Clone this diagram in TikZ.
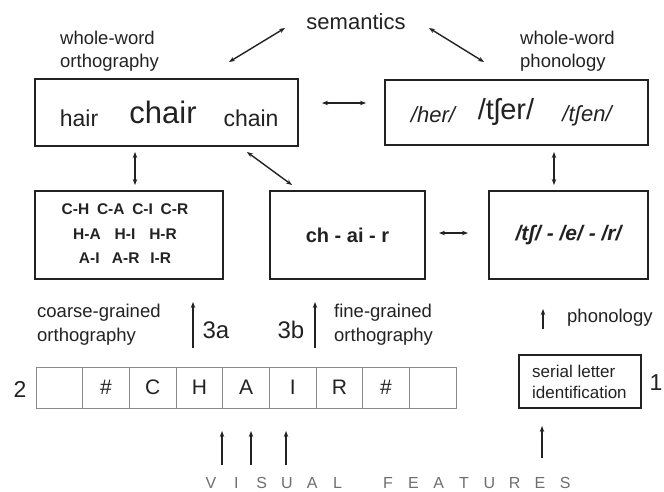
\documentclass[tikz,border=0pt]{standalone}
\usepackage{fontspec}
\setmainfont{Liberation Sans}
\usetikzlibrary{arrows.meta}
\definecolor{txt}{HTML}{222222}
\definecolor{gridc}{HTML}{8A8A8A}
\definecolor{vf}{HTML}{6E6E6E}
\newcommand\fsz[2]{\fontsize{#1}{#2}\selectfont}
\begin{document}
\begin{tikzpicture}[x=1pt,y=-1pt,
  box/.style={draw=txt, line width=2.2pt, inner sep=0pt},
  lbl/.style={inner sep=0pt, text=txt, align=left, anchor=west},
  word/.style={inner sep=0pt, text=txt},
  cell/.style={draw=gridc, line width=0.9pt, minimum width=46.67pt, minimum height=41pt, inner sep=0pt, text=txt, font=\fsz{21}{24}},
  tip/.style={-{Stealth[length=6pt,width=4.5pt]}},
  arr/.style={draw=txt, line width=1.4pt, tip},
  dbl/.style={draw=txt, line width=1.4pt, {Stealth[length=6pt,width=4.5pt]}-{Stealth[length=6pt,width=4.5pt]}}
]
\useasboundingbox (0,0) rectangle (664,491);

% top level
\node[word, font=\fsz{22}{26}] (sem) at (356,22) {semantics};
\node[lbl, font=\fsz{18.5}{23}] (wwol) at (60,51) {whole-word\\orthography};
\node[lbl, font=\fsz{18.5}{23}] (wwpl) at (520,51) {whole-word\\phonology};

\node[box, minimum width=263pt, minimum height=67pt] (wwo) at (166.5,112.5) {};
\node[word, font=\fsz{23}{26}] (hair) at (79,118) {hair};
\node[word, font=\fsz{31}{34}] (chair) at (163,112) {chair};
\node[word, font=\fsz{23}{26}] (chain) at (251,118) {chain};

\node[box, minimum width=263pt, minimum height=65pt] (wwp) at (516.5,112.5) {};
\node[word, font=\fsz{22}{26}\itshape] (her) at (433,115) {/her/};
\node[word, font=\fsz{29}{32}] (tser) at (506,112) {/tʃer/};
\node[word, font=\fsz{22}{26}\itshape] (tsen) at (587,116) {/tʃen/};

% middle row
\node[box, minimum width=188pt, minimum height=88pt] (pairs) at (129,235) {};
\node[word, font=\fsz{15.5}{24.5}\bfseries, align=center] (pairst) at (125,234)
  {C-H\hspace{0.5em}C-A\hspace{0.5em}C-I\hspace{0.5em}C-R\\H-A\hspace{0.9em}H-I\hspace{0.9em}H-R\\A-I\hspace{0.8em}A-R\hspace{0.7em}I-R};
\node[box, minimum width=155pt, minimum height=88pt, font=\fsz{20}{23}\bfseries, text=txt] (fine) at (347.5,235) {ch - ai - r};
\node[box, minimum width=159pt, minimum height=88pt, font=\fsz{21}{24}\bfseries\itshape, text=txt] (phon) at (568.5,235) {/tʃ/ - /e/ - /r/};

% connectors top
\coordinate (s1a) at (285,28); \coordinate (s1b) at (229,62);
\coordinate (s2a) at (429,28); \coordinate (s2b) at (484,62);
\draw[dbl] (s1a) -- (s1b);
\draw[dbl] (s2a) -- (s2b);
\coordinate (h1a) at (322,103); \coordinate (h1b) at (366,103);
\draw[dbl] (h1a) -- (h1b);
\coordinate (v1a) at (135,152); \coordinate (v1b) at (135,185);
\draw[dbl] (v1a) -- (v1b);
\coordinate (d1a) at (247,152); \coordinate (d1b) at (292,185);
\draw[dbl] (d1a) -- (d1b);
\coordinate (v2a) at (554,152); \coordinate (v2b) at (554,185);
\draw[dbl] (v2a) -- (v2b);
\coordinate (h2a) at (439,233); \coordinate (h2b) at (468,233);
\draw[dbl] (h2a) -- (h2b);

% labels lower
\node[lbl, font=\fsz{18.5}{24}] (coarse) at (37,325) {coarse-grained\\orthography};
\node[lbl, font=\fsz{18.5}{24}] (finel) at (334,325) {fine-grained\\orthography};
\node[lbl, font=\fsz{18.5}{22}] (phonl) at (567,318) {phonology};
\node[word, font=\fsz{24}{26}] (a3) at (216,330) {3a};
\node[word, font=\fsz{24}{26}] (b3) at (291,330) {3b};
\coordinate (r3aa) at (193,348); \coordinate (r3ab) at (193,302);
\draw[arr] (r3aa) -- (r3ab);
\coordinate (r3ba) at (315,348); \coordinate (r3bb) at (315,302);
\draw[arr] (r3ba) -- (r3bb);
\coordinate (rpa) at (543,329); \coordinate (rpb) at (543,309);
\draw[arr] (rpa) -- (rpb);

% letter strip
\foreach \i/\t in {0/{},1/\#,2/C,3/H,4/A,5/I,6/R,7/\#,8/{}} {
  \node[cell] (c\i) at ({59.33+46.67*\i},387.5) {\t};
}
\node[word, font=\fsz{23}{26}] (two) at (20,389) {2};

% serial letter identification
\node[box, minimum width=122pt, minimum height=53pt] (serial) at (580,381.5) {};
\node[lbl, font=\fsz{17}{20.5}] (serialt) at (532,382) {serial letter\\identification};
\node[word, font=\fsz{23}{26}] (one) at (656,383) {1};

% bottom arrows
\foreach \x in {222,251,286} {
  \coordinate (ba\x) at (\x,465); \coordinate (bb\x) at (\x,431);
  \draw[arr] (ba\x) -- (bb\x);
}
\coordinate (sa) at (542,458); \coordinate (sb) at (542,426);
\draw[arr] (sa) -- (sb);

% VISUAL FEATURES
\foreach \k/\l in {0/V,1/I,2/S,3/U,4/A,5/L,7/F,8/E,9/A,10/T,11/U,12/R,13/E,14/S} {
  \node[inner sep=0pt, text=vf, font=\fsz{16}{18}] (vf\k) at ({211+25.3*\k},483) {\l};
}
\end{tikzpicture}
\end{document}
